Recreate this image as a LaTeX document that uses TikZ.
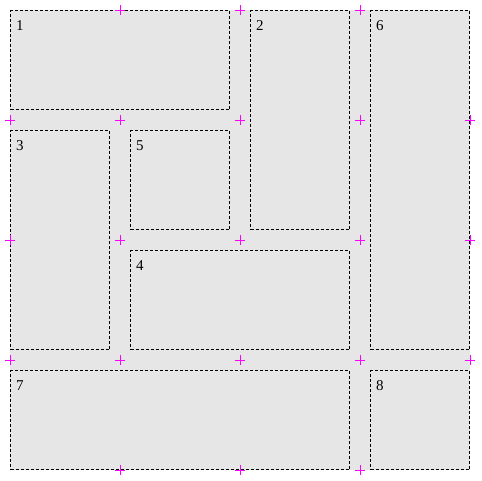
\documentclass[tikz,border=0pt]{standalone}
\usepackage{fontspec}
\setmainfont{Liberation Serif}
\definecolor{bggray}{HTML}{E6E6E6}
\definecolor{crossmag}{HTML}{FF00FF}
\tikzset{
  box/.style={draw=black, line width=1pt, dash pattern=on 3pt off 2pt, fill=bggray,
              inner sep=0pt, outer sep=0pt, anchor=north west},
  lab/.style={anchor=base west, inner sep=0pt, font=\fontsize{15}{15}\selectfont, text=black},
  crossline/.style={draw=crossmag, line width=1pt}
}
\newcommand{\gridcross}[2]{\draw[crossline] (#1-5,#2) -- (#1+5,#2) (#1,#2-5) -- (#1,#2+5);}
\begin{document}
\begin{tikzpicture}[x=1pt,y=-1pt]
\useasboundingbox (0,0) rectangle (482,480);
\fill[bggray] (10,10) rectangle (470,470);
% boxes
\node[box, minimum width=219pt, minimum height=99pt] (b1) at (10.5,10.5) {};
\node[box, minimum width=99pt, minimum height=219pt] (b2) at (250.5,10.5) {};
\node[box, minimum width=99pt, minimum height=339pt] (b6) at (370.5,10.5) {};
\node[box, minimum width=99pt, minimum height=219pt] (b3) at (10.5,130.5) {};
\node[box, minimum width=99pt, minimum height=99pt] (b5) at (130.5,130.5) {};
\node[box, minimum width=219pt, minimum height=99pt] (b4) at (130.5,250.5) {};
\node[box, minimum width=339pt, minimum height=99pt] (b7) at (10.5,370.5) {};
\node[box, minimum width=99pt, minimum height=99pt] (b8) at (370.5,370.5) {};
% labels
\node[lab] (l1) at (16,30) {1};
\node[lab] (l2) at (256,30) {2};
\node[lab] (l6) at (376,30) {6};
\node[lab] (l3) at (16,150) {3};
\node[lab] (l5) at (136,150) {5};
\node[lab] (l4) at (136,270) {4};
\node[lab] (l7) at (16,390) {7};
\node[lab] (l8) at (376,390) {8};
% crosses
\foreach \x in {120,240,360} {\gridcross{\x}{10}}
\foreach \y in {120,240,360} {\foreach \x in {10,120,240,360,470} {\gridcross{\x}{\y}}}
\foreach \x in {120,240,360} {\gridcross{\x}{470}}
\end{tikzpicture}
\end{document}
